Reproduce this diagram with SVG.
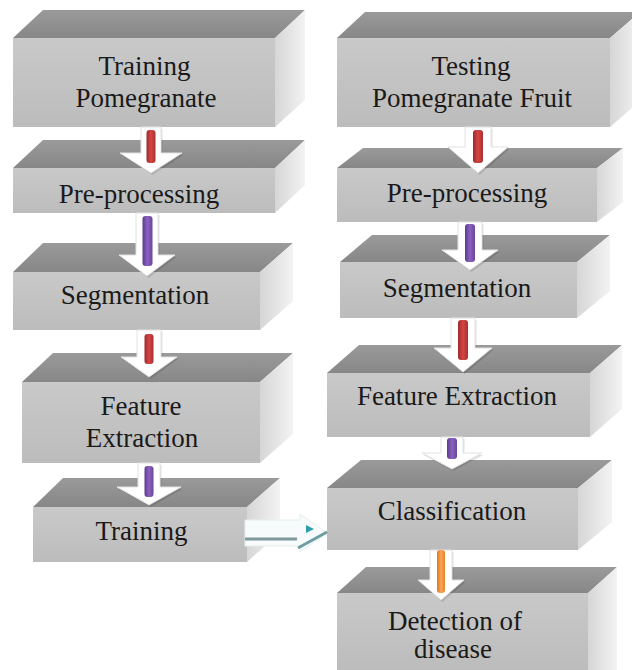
<svg xmlns="http://www.w3.org/2000/svg" width="632" height="670" viewBox="0 0 632 670">
  <defs>
    <linearGradient id="gFront" x1="0" y1="0" x2="0" y2="1">
      <stop offset="0" stop-color="#c9c9c9"/>
      <stop offset="1" stop-color="#bcbcbc"/>
    </linearGradient>
    <linearGradient id="gTop" x1="0" y1="0" x2="0" y2="1">
      <stop offset="0" stop-color="#9a9a9a"/>
      <stop offset="1" stop-color="#878787"/>
    </linearGradient>
    <linearGradient id="gSide" x1="0" y1="0" x2="1" y2="0">
      <stop offset="0" stop-color="#d6d6d6"/>
      <stop offset="1" stop-color="#f3f3f3"/>
    </linearGradient>
    <linearGradient id="gRed" x1="0" y1="0" x2="1" y2="0">
      <stop offset="0" stop-color="#9e2a2a"/>
      <stop offset="0.5" stop-color="#d64545"/>
      <stop offset="1" stop-color="#a83030"/>
    </linearGradient>
    <linearGradient id="gPurple" x1="0" y1="0" x2="1" y2="0">
      <stop offset="0" stop-color="#5e3a8e"/>
      <stop offset="0.5" stop-color="#8a62c0"/>
      <stop offset="1" stop-color="#6a4599"/>
    </linearGradient>
    <linearGradient id="gOrange" x1="0" y1="0" x2="1" y2="0">
      <stop offset="0" stop-color="#e0771e"/>
      <stop offset="0.5" stop-color="#f7a656"/>
      <stop offset="1" stop-color="#e5842c"/>
    </linearGradient>
    <linearGradient id="gTeal" x1="0" y1="0" x2="1" y2="0">
      <stop offset="0" stop-color="#7cc7cf"/>
      <stop offset="1" stop-color="#2f9fab"/>
    </linearGradient>
  </defs>

  <rect width="632" height="670" fill="#ffffff"/>

  <!-- left column -->
  <g id="train-fruit">
    <polygon fill="url(#gTop)" points="13,38 43,10 305,10 275,38"/>
    <polygon fill="url(#gSide)" points="275,38 305,10 305,100 275,127"/>
    <rect fill="url(#gFront)" x="13" y="38" width="262" height="89"/>
    <text x="98.5" y="75" font-family="Liberation Serif" font-size="27" fill="#1a1a1a">Training</text>
    <text x="75.5" y="107" font-family="Liberation Serif" font-size="27" fill="#1a1a1a">Pomegranate</text>
  </g>
  <g id="train-preproc">
    <polygon fill="url(#gTop)" points="13,168 43,140 305,140 275,168"/>
    <polygon fill="url(#gSide)" points="275,168 305,140 305,185 275,213"/>
    <rect fill="url(#gFront)" x="13" y="168" width="262" height="45"/>
    <text x="58.8" y="203" font-family="Liberation Serif" font-size="27" fill="#1a1a1a">Pre-processing</text>
  </g>
  <g id="train-seg">
    <polygon fill="url(#gTop)" points="13,272 43,243 293,243 260,272"/>
    <polygon fill="url(#gSide)" points="260,272 293,243 293,301 260,330"/>
    <rect fill="url(#gFront)" x="13" y="272" width="247" height="58"/>
    <text x="60.8" y="304" font-family="Liberation Serif" font-size="27" fill="#1a1a1a">Segmentation</text>
  </g>
  <g id="train-feat">
    <polygon fill="url(#gTop)" points="22,382 53,353 293,353 260,382"/>
    <polygon fill="url(#gSide)" points="260,382 293,353 293,434 260,463"/>
    <rect fill="url(#gFront)" x="22" y="382" width="238" height="81"/>
    <text x="100.5" y="415" font-family="Liberation Serif" font-size="27" fill="#1a1a1a">Feature</text>
    <text x="85.8" y="447" font-family="Liberation Serif" font-size="27" fill="#1a1a1a">Extraction</text>
  </g>
  <g id="train-model">
    <polygon fill="url(#gTop)" points="33,507 63,478 280,478 247,507"/>
    <polygon fill="url(#gSide)" points="247,507 280,478 280,533 247,562"/>
    <rect fill="url(#gFront)" x="33" y="507" width="214" height="55"/>
    <text x="95.5" y="540" font-family="Liberation Serif" font-size="27" fill="#1a1a1a">Training</text>
  </g>

  <!-- right column -->
  <g id="test-fruit">
    <polygon fill="url(#gTop)" points="337,38 365,12 640,12 610,38"/>
    <polygon fill="url(#gSide)" points="610,38 640,12 640,101 610,127"/>
    <rect fill="url(#gFront)" x="337" y="38" width="273" height="89"/>
    <text x="431.5" y="75" font-family="Liberation Serif" font-size="27" fill="#1a1a1a">Testing</text>
    <text x="371.9" y="107" font-family="Liberation Serif" font-size="27" fill="#1a1a1a">Pomegranate Fruit</text>
  </g>
  <g id="test-preproc">
    <polygon fill="url(#gTop)" points="337,168 363,148 623,148 597,168"/>
    <polygon fill="url(#gSide)" points="597,168 623,148 623,202 597,222"/>
    <rect fill="url(#gFront)" x="337" y="168" width="260" height="54"/>
    <text x="386.8" y="202" font-family="Liberation Serif" font-size="27" fill="#1a1a1a">Pre-processing</text>
  </g>
  <g id="test-seg">
    <polygon fill="url(#gTop)" points="340,262 372,235 610,235 577,262"/>
    <polygon fill="url(#gSide)" points="577,262 610,235 610,291 577,318"/>
    <rect fill="url(#gFront)" x="340" y="262" width="237" height="56"/>
    <text x="382.8" y="297" font-family="Liberation Serif" font-size="27" fill="#1a1a1a">Segmentation</text>
  </g>
  <g id="test-feat">
    <polygon fill="url(#gTop)" points="327,373 359,345 622,345 590,373"/>
    <polygon fill="url(#gSide)" points="590,373 622,345 622,409 590,437"/>
    <rect fill="url(#gFront)" x="327" y="373" width="263" height="64"/>
    <text x="356.9" y="405" font-family="Liberation Serif" font-size="27" fill="#1a1a1a">Feature Extraction</text>
  </g>
  <g id="classify">
    <polygon fill="url(#gTop)" points="327,488 361,460 612,460 578,488"/>
    <polygon fill="url(#gSide)" points="578,488 612,460 612,522 578,550"/>
    <rect fill="url(#gFront)" x="327" y="488" width="251" height="62"/>
    <text x="377.8" y="520" font-family="Liberation Serif" font-size="27" fill="#1a1a1a">Classification</text>
  </g>
  <g id="detect">
    <polygon fill="url(#gTop)" points="337,593 366,567 617,567 588,593"/>
    <polygon fill="url(#gSide)" points="588,593 617,567 617,670 588,670"/>
    <rect fill="url(#gFront)" x="337" y="593" width="251" height="77"/>
    <text x="387.9" y="630" font-family="Liberation Serif" font-size="27" fill="#1a1a1a">Detection of</text>
    <text x="414" y="658" font-family="Liberation Serif" font-size="27" fill="#1a1a1a">disease</text>
  </g>

  <!-- connectors: block arrows with coloured inner bars -->
  <g id="connectors">
    <!-- soft shadow under each block arrow -->
    <g fill="#000000" fill-opacity="0.12" transform="translate(1.5,2)">
      <polygon points="141,127 161,127 161,153 182,153 151,173 120,153 141,153"/>
      <polygon points="136,213 158,213 158,255 175,255 147,276 119,255 136,255"/>
      <polygon points="137,330 161,330 161,357 177,357 149,377 121,357 137,357"/>
      <polygon points="138,463 160,463 160,487 181,487 149,505 117,487 138,487"/>
      <polygon points="465,127 491,127 491,147 508,147 478,173 448,147 465,147"/>
      <polygon points="458,222 482,222 482,250 498,250 470,270 442,250 458,250"/>
      <polygon points="451,318 475,318 475,348 492,348 463,372 434,348 451,348"/>
      <polygon points="441,437 463,437 463,453 482,453 452,469 422,453 441,453"/>
      <polygon points="430,550 452,550 452,580 464,580 441,600 418,580 430,580"/>
    </g>
    <g fill="#ffffff" stroke="#e2e2e2" stroke-width="1">
      <polygon points="141,127 161,127 161,153 182,153 151,173 120,153 141,153"/>
      <polygon points="136,213 158,213 158,255 175,255 147,276 119,255 136,255"/>
      <polygon points="137,330 161,330 161,357 177,357 149,377 121,357 137,357"/>
      <polygon points="138,463 160,463 160,487 181,487 149,505 117,487 138,487"/>
      <polygon points="465,127 491,127 491,147 508,147 478,173 448,147 465,147"/>
      <polygon points="458,222 482,222 482,250 498,250 470,270 442,250 458,250"/>
      <polygon points="451,318 475,318 475,348 492,348 463,372 434,348 451,348"/>
      <polygon points="441,437 463,437 463,453 482,453 452,469 422,453 441,453"/>
      <polygon points="430,550 452,550 452,580 464,580 441,600 418,580 430,580"/>
    </g>
    <rect x="146.5" y="130" width="9" height="33" rx="3" fill="url(#gRed)"/>
    <rect x="142.5" y="216" width="10" height="50" rx="3" fill="url(#gPurple)"/>
    <rect x="144.5" y="334" width="9" height="30" rx="3" fill="url(#gRed)"/>
    <rect x="144.5" y="466" width="9" height="31" rx="3" fill="url(#gPurple)"/>
    <rect x="473" y="130" width="10" height="33" rx="3" fill="url(#gRed)"/>
    <rect x="465" y="224" width="10" height="38" rx="3" fill="url(#gPurple)"/>
    <rect x="458" y="320" width="10" height="40" rx="3" fill="url(#gRed)"/>
    <rect x="447" y="438" width="10" height="21" rx="3" fill="url(#gPurple)"/>
    <rect x="437" y="550" width="8" height="43" rx="3" fill="url(#gOrange)"/>

    <!-- training model to classification -->
    <polygon points="245,520 300,520 300,514 327,533 300,552 300,546 245,546" fill="#f7fbfb" stroke="#e4eeee" stroke-width="1"/>
    <line x1="250" y1="529" x2="308" y2="529" stroke="url(#gTeal)" stroke-width="3.5"/>
    <polygon points="306,525 314,529 306,533" fill="#2f9fab"/>
    <line x1="245" y1="539" x2="297" y2="539" stroke="#7e9a9c" stroke-width="3"/>
    <line x1="298" y1="548" x2="327" y2="532" stroke="#6f9ea2" stroke-width="3"/>
  </g>
</svg>
